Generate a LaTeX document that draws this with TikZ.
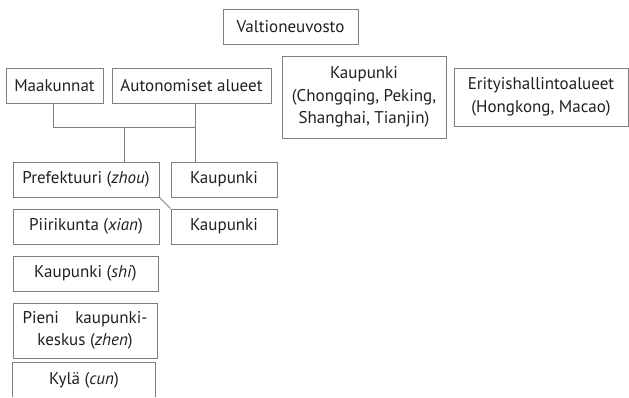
\documentclass[tikz,border=0pt]{standalone}
\usepackage{fontspec}
\setmainfont{PT Sans}
\definecolor{edge}{HTML}{7F7F7F}
\definecolor{ink}{HTML}{231F20}
\begin{document}
\begin{tikzpicture}[x=1pt,y=-1pt,
  box/.style={draw=edge, line width=0.9pt, inner sep=0pt, align=center, text=ink,
    font=\fontsize{17}{22.5}\selectfont},
  conn/.style={draw=edge, line width=0.9pt}]
\useasboundingbox (0,0) rectangle (629,397);
\node[box, minimum width=135pt, minimum height=35pt] (valt) at (290.5,26.5) {Valtioneuvosto};
\node[box, minimum width=97pt, minimum height=35pt] (maak) at (54.5,85.5) {Maakunnat};
\node[box, minimum width=159pt, minimum height=35pt] (auto) at (191.5,85.5) {Autonomiset alueet};
\node[box, minimum width=164pt, minimum height=82pt] (kbig) at (364,97) {Kaupunki\\(Chongqing, Peking,\\Shanghai, Tianjin)};
\node[box, minimum width=174pt, minimum height=58pt] (erit) at (541,97) {Erityishallintoalueet\\(Hongkong, Macao)};
\node[box, minimum width=146pt, minimum height=35pt] (pref) at (86,179.5) {Prefektuuri (\textit{zhou})};
\node[box, minimum width=106pt, minimum height=35pt] (kau1) at (224,179.5) {Kaupunki};
\node[box, minimum width=146pt, minimum height=35pt] (piir) at (86,226.5) {Piirikunta (\textit{xian})};
\node[box, minimum width=106pt, minimum height=35pt] (kau2) at (224,226.5) {Kaupunki};
\node[box, minimum width=145pt, minimum height=35pt] (shi) at (85.5,273.5) {Kaupunki (\textit{shi})};
\node[box, minimum width=144pt, minimum height=55pt] (pien) at (85,330.5) {\makebox[125pt][s]{Pieni\hfill kaupunki-}\\keskus (\textit{zhen})};
\node[box, draw=none, minimum width=142pt, minimum height=34pt] (kyla) at (84,380) {Kylä (\textit{cun})};
\draw[conn] (kyla.south west) -- (kyla.north west) -- (kyla.north east) -- (kyla.south east);
\coordinate (jl) at (53,127);
\coordinate (jm) at (124,127);
\coordinate (jr) at (195,127);
\draw[conn] (maak.south -| jl) |- (jr);
\draw[conn] (auto.south -| jr) -- (kau1.north -| jr);
\draw[conn] (jm) -- (pref.north -| jm);
\draw[conn] (pref.south east) -- (kau2.north west);
\end{tikzpicture}
\end{document}
